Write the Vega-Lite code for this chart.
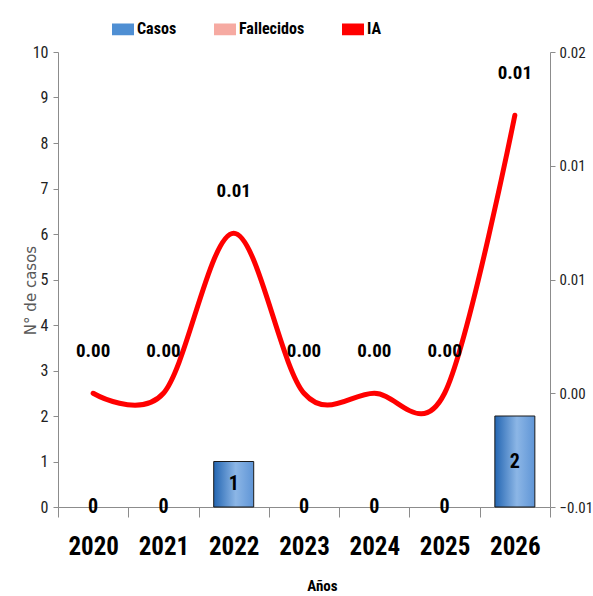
{
  "$schema": "https://vega.github.io/schema/vega-lite/v6.json",
  "width": 492,
  "height": 455,
  "autosize": {"type": "none"},
  "padding": {"left": 58, "top": 52, "right": 43, "bottom": 89},
  "background": "white",
  "config": {
    "view": {"stroke": null},
    "font": "Liberation Sans Narrow, Roboto Condensed, Arial Narrow, Roboto, sans-serif"
  },
  "data": {
    "values": [
      {"year": "2020", "casos": 0, "fallecidos": 0, "ia": 0},
      {"year": "2021", "casos": 0, "fallecidos": 0, "ia": 0},
      {"year": "2022", "casos": 1, "fallecidos": 0, "ia": 0.00703},
      {"year": "2023", "casos": 0, "fallecidos": 0, "ia": 0},
      {"year": "2024", "casos": 0, "fallecidos": 0, "ia": 0},
      {"year": "2025", "casos": 0, "fallecidos": 0, "ia": 0},
      {"year": "2026", "casos": 2, "fallecidos": 0, "ia": 0.01222}
    ]
  },
  "encoding": {
    "x": {
      "field": "year",
      "type": "nominal",
      "scale": {"paddingInner": 0, "paddingOuter": 0},
      "axis": {
        "title": "Años",
        "titleFontSize": 15,
        "titleFontWeight": "bold",
        "titleColor": "#000000",
        "titleX": 264,
        "titleY": 78,
        "titleBaseline": "middle",
        "labelAngle": 0,
        "labelFontSize": 25,
        "labelFontWeight": "bold",
        "labelColor": "#000000",
        "labelPadding": 17,
        "tickBand": "extent",
        "tickSize": 10,
        "tickColor": "#8c8c8c",
        "domainColor": "#8c8c8c",
        "grid": false
      }
    }
  },
  "layer": [
    {
      "layer": [
        {
          "transform": [{"filter": "datum.casos > 0"}],
          "mark": {"type": "bar", "width": 40, "stroke": "#1a1a1a", "strokeWidth": 1},
          "encoding": {
            "y": {
              "field": "casos",
              "type": "quantitative",
              "scale": {"domain": [0, 10], "nice": false},
              "axis": {
                "title": "N° de casos",
                "titleFont": "DejaVu Sans, sans-serif",
                "titleFontSize": 15,
                "titleFontWeight": "normal",
                "titleColor": "#595959",
                "titleX": -28,
                "titleY": 238,
                "titleBaseline": "middle",
                "titleAlign": "center",
                "values": [0, 1, 2, 3, 4, 5, 6, 7, 8, 9, 10],
                "labelFontSize": 16,
                "labelColor": "#222222",
                "labelPadding": 5,
                "tickSize": 5,
                "tickColor": "#8c8c8c",
                "domainColor": "#8c8c8c",
                "grid": false
              }
            },
            "color": {
              "condition": {
                "test": "true",
                "value": {
                  "gradient": "linear",
                  "x1": 0, "x2": 1, "y1": 0, "y2": 0,
                  "stops": [
                    {"offset": 0, "color": "#2466b2"},
                    {"offset": 0.55, "color": "#8cb6e6"},
                    {"offset": 1, "color": "#5f95d6"}
                  ]
                }
              },
              "datum": "Casos",
              "scale": {
                "domain": ["Casos", "Fallecidos", "IA"],
                "range": ["#4f8fd3", "#f6aaa2", "#ff0000"]
              },
              "legend": {
                "title": null,
                "orient": "none",
                "direction": "horizontal",
                "legendX": 54,
                "legendY": -34,
                "columnPadding": 34,
                "symbolSize": 420,
                "symbolType": "M-1,-0.5H1V0.5H-1Z",
                "labelFontSize": 16,
                "labelFontWeight": "bold",
                "labelColor": "#000000",
                "labelOffset": 3,
                "encode": {
                  "symbols": {
                    "update": {
                      "shape": {"signal": "datum.value === 'IA' ? 'M-1,0H1' : 'M-1,-0.5H1V0.5H-1Z'"},
                      "fill": {"signal": "datum.value === 'IA' ? 'transparent' : (datum.value === 'Casos' ? '#4f8fd3' : '#f6aaa2')"},
                      "stroke": {"signal": "datum.value === 'IA' ? '#ff0000' : '#222222'"},
                      "strokeWidth": {"signal": "datum.value === 'IA' ? 5 : 1"},
                      "strokeCap": {"value": "round"},
                      "opacity": {"value": 1}
                    }
                  }
                }
              }
            }
          }
        },
        {
          "mark": {"type": "bar", "width": 40, "strokeWidth": 0},
          "encoding": {
            "y": {"field": "fallecidos", "type": "quantitative"},
            "color": {"datum": "Fallecidos"}
          }
        },
        {
          "transform": [{"calculate": "datum.casos / 2", "as": "mid"}],
          "mark": {"type": "text", "fontSize": 20, "fontWeight": "bold", "color": "#000000", "baseline": "middle"},
          "encoding": {
            "y": {"field": "mid", "type": "quantitative"},
            "text": {"field": "casos", "type": "quantitative"}
          }
        }
      ]
    },
    {
      "layer": [
        {
          "mark": {"type": "line", "interpolate": "cardinal", "strokeWidth": 5, "strokeCap": "round"},
          "encoding": {
            "y": {
              "field": "ia",
              "type": "quantitative",
              "scale": {"domain": [-0.005, 0.015], "nice": false, "zero": false},
              "axis": {
                "orient": "right",
                "title": null,
                "values": [-0.005, 0, 0.005, 0.01, 0.015],
                "labelExpr": "format(datum.value + (datum.value < 0 ? -1e-9 : 1e-9), '.2f')",
                "labelFontSize": 15,
                "labelColor": "#222222",
                "labelPadding": 4,
                "tickSize": 5,
                "tickColor": "#8c8c8c",
                "domainColor": "#8c8c8c",
                "grid": false
              }
            },
            "color": {"datum": "IA"}
          }
        },
        {
          "mark": {"type": "text", "fontSize": 19, "fontWeight": "bold", "color": "#000000", "dy": -42},
          "encoding": {
            "y": {"field": "ia", "type": "quantitative"},
            "text": {"field": "ia", "type": "quantitative", "format": ".2f"}
          }
        }
      ]
    }
  ],
  "resolve": {"scale": {"y": "independent"}}
}
